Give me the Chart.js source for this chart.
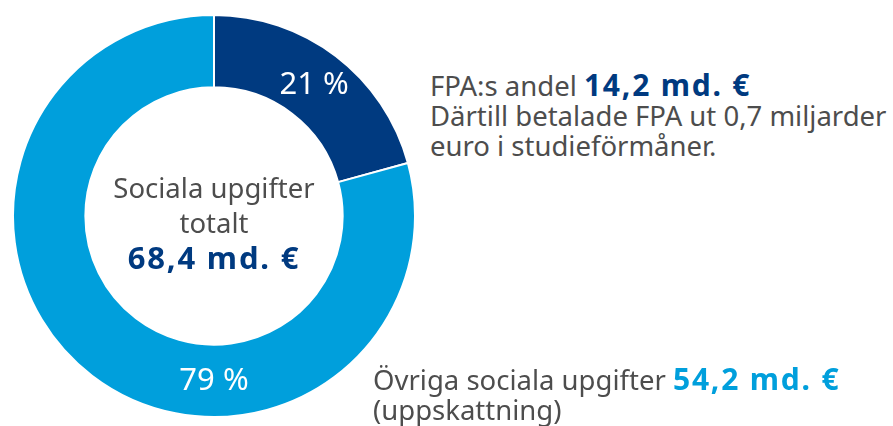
<!DOCTYPE html>
<html>
<head>
<meta charset="utf-8">
<script src="https://cdn.jsdelivr.net/npm/chart.js@4"></script>
<style>
  body { margin: 0; width: 893px; height: 426px; background: #fff; overflow: hidden; position: relative;
         font-family: "Noto Sans", "Open Sans", sans-serif; color: #4d4d4d; }
  #wrap { position: absolute; left: 12px; top: 14px; width: 404px; height: 404px; }
  .txt { position: absolute; font-size: 27.5px; line-height: 30px; white-space: nowrap; }
  .b { font-weight: 700; font-size: 30px; letter-spacing: 1.8px; }
  .navy { color: #003a80; }
  .blue { color: #009fdc; }
  #center { left: 64px; width: 300px; top: 170px; text-align: center; line-height: 35px; }
  #center .b { font-size: 31px; }
</style>
</head>
<body>
<div id="wrap"><canvas id="donut"></canvas></div>
<div class="txt" id="center">Sociala upgifter<br>totalt<br><span class="b navy">68,4 md. €</span></div>
<div class="txt" style="left:430px; top:70px;">FPA:s andel <span class="b navy">14,2 md. €</span><br>Därtill betalade FPA ut 0,7 miljarder<br>euro i studieförmåner.</div>
<div class="txt" style="left:373px; top:364px;">Övriga sociala upgifter <span class="b blue">54,2 md. €</span><br>(uppskattning)</div>
<script>
// values in billions of euro
const categories = ['FPA:s andel', 'Övriga sociala upgifter'];
const amounts = [14.2, 54.2];
const percentLabels = ['21 %', '79 %'];
const colors = ['#003a80', '#009fdc'];

// draw the percent labels inside the ring
const percentPlugin = {
  id: 'percent',
  afterDatasetsDraw(chart) {
    const ctx = chart.ctx;
    const meta = chart.getDatasetMeta(0);
    ctx.save();
    ctx.fillStyle = '#fff';
    ctx.font = '31px "Noto Sans"';
    ctx.textAlign = 'center';
    ctx.textBaseline = 'middle';
    meta.data.forEach((arc, i) => {
      const r = (arc.innerRadius + arc.outerRadius) / 2;
      // second label sits at the bottom of the ring
      const a = i === 1 ? Math.PI / 2 : (arc.startAngle + arc.endAngle) / 2;
      ctx.fillText(percentLabels[i], arc.x + r * Math.cos(a), arc.y + r * Math.sin(a));
    });
    ctx.restore();
  }
};

new Chart(document.getElementById('donut'), {
  type: 'doughnut',
  data: {
    labels: categories,
    datasets: [{
      data: amounts,
      backgroundColor: colors,
      borderColor: '#fff',
      borderWidth: 2
    }]
  },
  options: {
    responsive: true,
    maintainAspectRatio: false,
    animation: false,
    cutout: '64%',
    plugins: { legend: { display: false }, tooltip: { enabled: false } }
  },
  plugins: [percentPlugin]
});
</script>
</body>
</html>
